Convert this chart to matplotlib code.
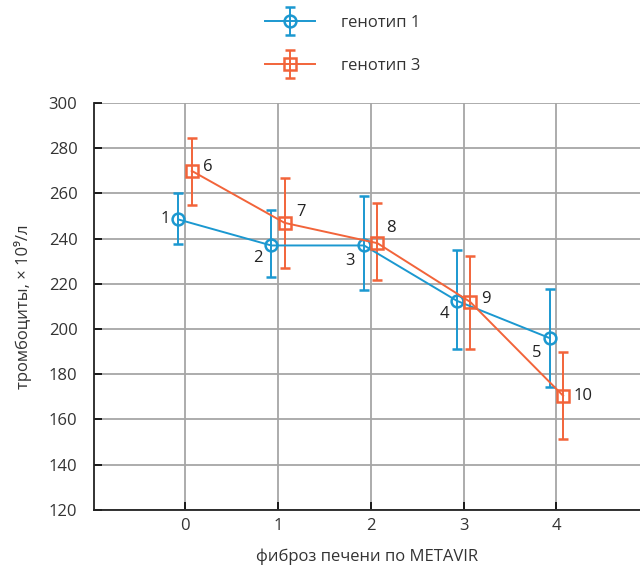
import matplotlib
matplotlib.use("Agg")
import matplotlib.pyplot as plt
from matplotlib.legend_handler import HandlerErrorbar
import numpy as np

plt.rcParams['font.family'] = ['Open Sans', 'DejaVu Sans']

stages = [0, 1, 2, 3, 4]
tick_labels = ['0', '1', '2', '3', '4']

g1_mean = [248.5, 237, 237, 212.5, 196]
g1_low = [237.6, 223.1, 217.3, 191.3, 174.3]
g1_high = [260.2, 252.5, 258.7, 235.2, 217.9]
g1_labels = ['1', '2', '3', '4', '5']

g3_mean = [270, 247, 238, 212, 170.5]
g3_low = [255, 227.1, 221.6, 191.3, 151.5]
g3_high = [284.5, 266.8, 255.7, 232.3, 190]
g3_labels = ['6', '7', '8', '9', '10']

blue = '#1b98d0'
orange = '#f2643a'
offset = 0.072

fig = plt.figure(figsize=(6.4, 5.71), dpi=100)
ax = fig.add_axes([0.147, 0.107, 0.853, 0.7125])

x = np.array(stages, dtype=float)
m1 = np.array(g1_mean); m3 = np.array(g3_mean)
e1 = [m1 - np.array(g1_low), np.array(g1_high) - m1]
e3 = [m3 - np.array(g3_low), np.array(g3_high) - m3]

h1 = ax.errorbar(x - offset, m1, yerr=e1, color=blue, marker='o', markersize=8.5,
                 markerfacecolor='none', markeredgewidth=1.8, linewidth=1.4,
                 elinewidth=1.4, capsize=3.8, capthick=1.4, label='генотип 1', zorder=4)
h3 = ax.errorbar(x + offset, m3, yerr=e3, color=orange, marker='s', markersize=8,
                 markerfacecolor='none', markeredgewidth=1.8, linewidth=1.4,
                 elinewidth=1.4, capsize=3.8, capthick=1.4, label='генотип 3', zorder=4)

off1 = [(-13, 0), (-13, -13), (-14, -16), (-12, -13), (-13, -15)]
off3 = [(16, 4), (16, 11), (13, 15), (16, 3), (20, 0)]
for xi, yi, lab, (dx, dy) in zip(x - offset, m1, g1_labels, off1):
    ax.annotate(lab, (xi, yi), xytext=(dx, dy), textcoords='offset pixels',
                ha='center', va='center', fontsize=12, color='#222222')
for xi, yi, lab, (dx, dy) in zip(x + offset, m3, g3_labels, off3):
    ax.annotate(lab, (xi, yi), xytext=(dx, dy), textcoords='offset pixels',
                ha='center', va='center', fontsize=12, color='#222222')

ax.set_xlim(-0.98, 4.9)
ax.set_ylim(120, 300)
ax.set_yticks(np.arange(120, 301, 20))
ax.set_xticks(stages)
ax.set_xticklabels(tick_labels)
ax.grid(True, color='#a6a6a6', linewidth=1.3)
ax.set_axisbelow(True)
for s in ['top', 'right']:
    ax.spines[s].set_visible(False)
for s in ['left', 'bottom']:
    ax.spines[s].set_linewidth(1.3)
    ax.spines[s].set_color('#222222')
ax.tick_params(direction='in', length=6, width=1.2, labelsize=12,
               labelcolor='#333333')
ax.tick_params(axis='x', pad=6)
ax.tick_params(axis='y', pad=12)
ax.set_xlabel('фиброз печени по METAVIR', fontsize=12, color='#333333', labelpad=10)
ax.set_ylabel('тромбоциты, × 10⁹/л', fontsize=12, color='#333333', labelpad=12)

fig.legend(handles=[h1, h3], loc='upper center', bbox_to_anchor=(0.535, 1.0),
           frameon=False, fontsize=12, handlelength=3.0, handletextpad=1.55,
           labelspacing=1.6, labelcolor='#333333',
           handler_map={type(h1): HandlerErrorbar(xerr_size=0.5, yerr_size=0.85)})

fig.savefig('out.png', dpi=100)
